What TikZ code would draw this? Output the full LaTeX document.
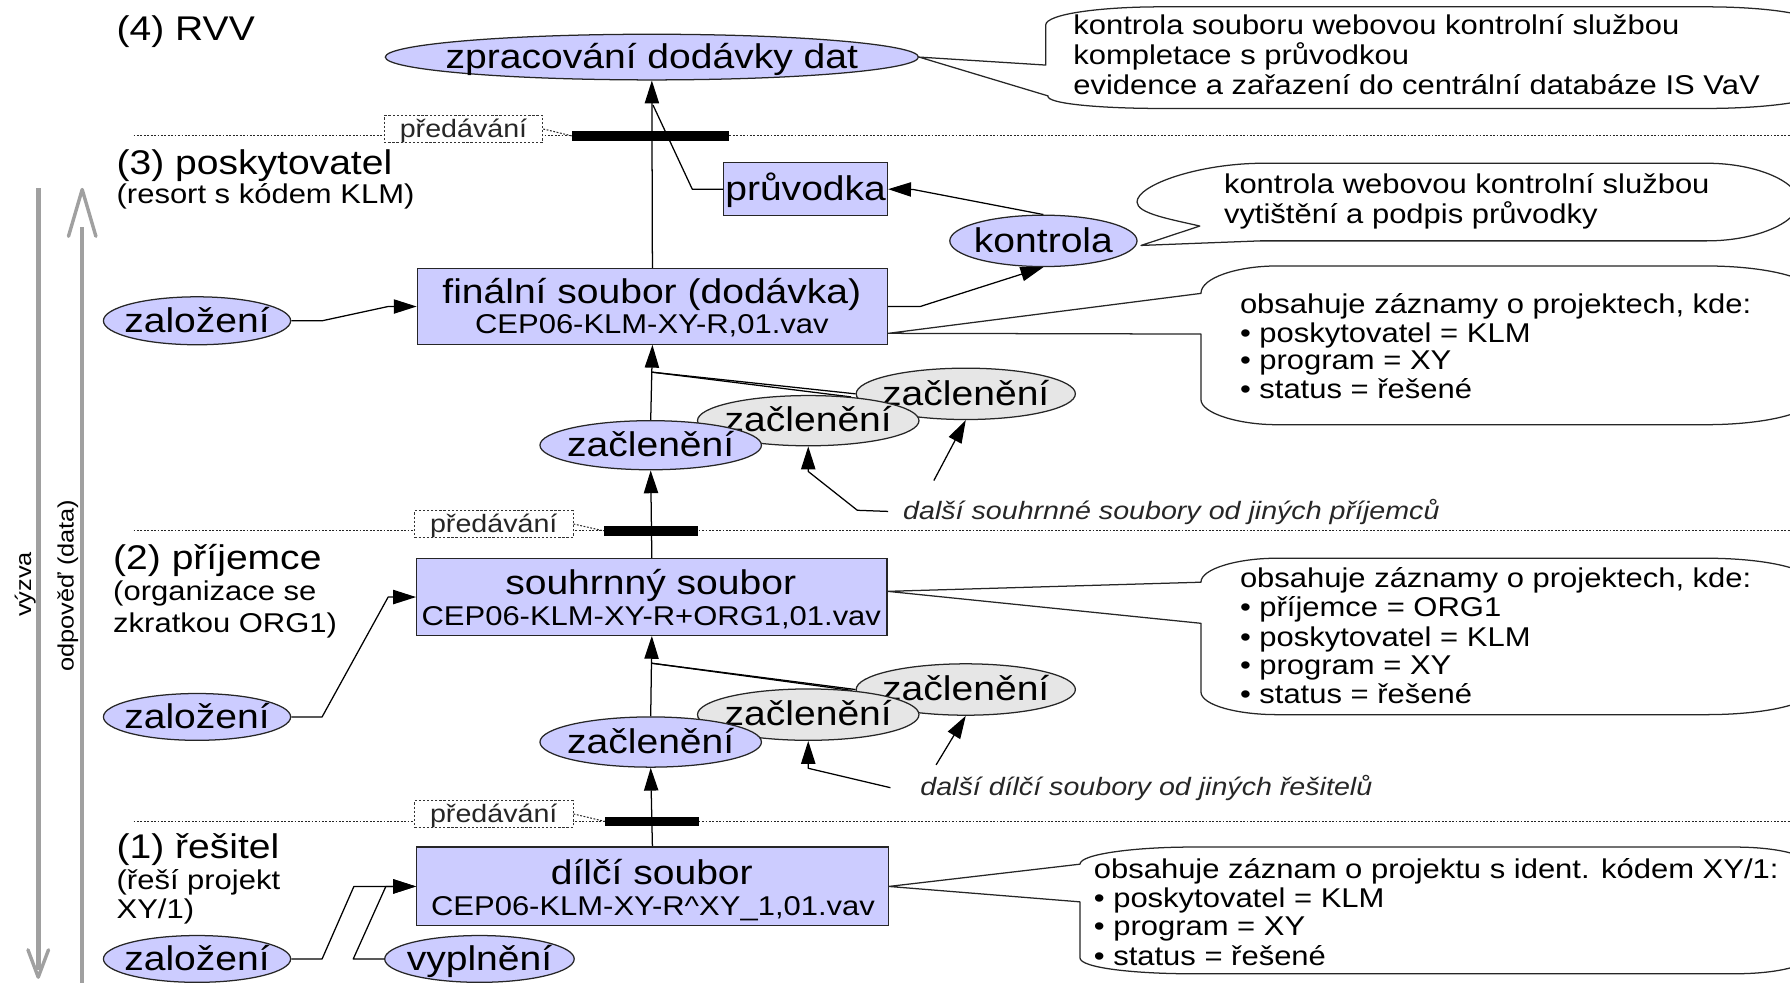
\documentclass[tikz,border=0pt]{standalone}
\usepackage{fontspec}
\setmainfont{Liberation Sans}[FakeStretch=1.14]
\usetikzlibrary{arrows.meta,shapes.geometric,backgrounds}
\definecolor{lav}{RGB}{204,204,255}
\definecolor{lgray}{RGB}{230,230,230}
\definecolor{agray}{RGB}{160,160,160}
\newcommand{\fBig}{\fontsize{30}{34}\selectfont}
\newcommand{\fSm}{\fontsize{23.8}{26}\selectfont}
\newcommand{\fIt}{\fontsize{22}{24}\selectfont\itshape}
\newcommand{\fSide}{\fontsize{19.5}{22}\selectfont}
\newcommand{\fPred}{\fontsize{22}{24}\selectfont}
\newcommand{\zw}[1]{\makebox[0pt]{#1}}
\begin{document}
\begin{tikzpicture}[x=1pt,y=-1pt,
  ln/.style={draw=black, line width=1.1pt, line join=round},
  arr/.style={ln, -{Triangle[length=20pt,width=12.5pt]}},
  ell/.style={ellipse, draw=black!85, line width=1.1pt, inner sep=0pt, font=\fBig, text height=21pt, text depth=1.2pt},
  lavell/.style={ell, fill=lav},
  grell/.style={ell, fill=lgray},
  fbox/.style={rectangle, draw=black!85, fill=lav, line width=1.1pt, inner sep=0pt},
  bigtx/.style={inner sep=0pt, font=\fBig, text height=21pt, text depth=1.2pt},
  smtx/.style={inner sep=0pt, font=\fSm, text height=16.7pt, text depth=0.9pt},
  ittx/.style={inner sep=0pt, font=\fIt, text=black!85, text height=15.4pt, text depth=0.9pt},
  sidetx/.style={inner sep=0pt, font=\fSide},
  co/.style={draw=black!85, line width=1.1pt, fill=white, line join=round},
  sepline/.style={draw=black!85, line width=0.9pt, dash pattern=on 1.6pt off 1.4pt},
  pbox/.style={rectangle, draw=black!80, dash pattern=on 2pt off 1.6pt, line width=0.8pt, fill=white, inner sep=0pt, minimum width=139pt, minimum height=23pt, font=\fPred, text=black!85, text height=15.4pt, text depth=0.9pt},
  barnode/.style={rectangle, fill=black, inner sep=0pt, minimum height=8.5pt},
  garr/.style={draw=agray, line width=4pt},
  garrhead/.style={draw=agray, line width=3pt, line join=round, line cap=round}
]
\useasboundingbox (0,0) rectangle (1568,861);
\clip (0,0) rectangle (1568,861);

% ---- section labels
\node[bigtx, anchor=west] (s4) at (102,26) {(4) RVV};
\node[bigtx, anchor=west] (s3) at (102,143) {(3) poskytovatel};
\node[smtx, anchor=west] (s3b) at (102,170) {(resort s kódem KLM)};
\node[bigtx, anchor=west] (s2) at (99,489) {(2) příjemce};
\node[smtx, anchor=west] (s2b) at (99,518) {(organizace se};
\node[smtx, anchor=west] (s2c) at (99,546) {zkratkou ORG1)};
\node[bigtx, anchor=west] (s1) at (102,742) {(1) řešitel};
\node[smtx, anchor=west] (s1b) at (102,771) {(řeší projekt};
\node[smtx, anchor=west] (s1c) at (102,797) {XY/1)};

% ---- side arrows
\draw[garr] (72,866) -- (72,199);
\draw[garrhead] (60,207) -- (72,166) -- (84,207);
\draw[garr] (33.5,165) -- (33.5,850);
\draw[garrhead] (24.5,832) -- (33.5,856) -- (42.5,832);
\node[sidetx, rotate=90] (vyz) at (22,512) {výzva};
\node[sidetx, rotate=90] (odp) at (59.5,513) {odpověď (data)};

% ---- level 4
\node[lavell, minimum width=467pt, minimum height=40pt] (rvv) at (571,50) {\zw{zpracování dodávky dat}};

% ---- level 3
\node[fbox, minimum width=143.5pt, minimum height=46.5pt, font=\fBig, text height=21pt, text depth=1.2pt] (pruv) at (705.7,165.7) {průvodka};
\node[lavell, minimum width=164pt, minimum height=45pt] (kon) at (914,211) {\zw{kontrola}};
\node[fbox, minimum width=412pt, minimum height=66pt] (fin) at (571.5,268.5) {};
\node[bigtx] (fin1) at (571,256) {finální soubor (dodávka)};
\node[smtx] (fin2) at (571,284) {CEP06-KLM-XY-R,01.vav};
\node[lavell, minimum width=164pt, minimum height=42pt] (zal3) at (172.6,281) {\zw{založení}};
\node[grell, minimum width=192pt, minimum height=45pt] (g32) at (846,345) {\zw{začlenění}};
\node[grell, minimum width=194pt, minimum height=44pt] (g31) at (708,368.5) {\zw{začlenění}};
\node[lavell, minimum width=194pt, minimum height=43pt] (zc3) at (570,390) {\zw{začlenění}};
\node[ittx, anchor=west] (lab3) at (791,448) {další souhrnné soubory od jiných příjemců};

% ---- level 2
\node[fbox, minimum width=412pt, minimum height=67pt] (souhr) at (571,523) {};
\node[bigtx] (sou1) at (570,511) {souhrnný soubor};
\node[smtx] (sou2) at (570.5,540) {CEP06-KLM-XY-R+ORG1,01.vav};
\node[lavell, minimum width=164pt, minimum height=41pt] (zal2) at (172.6,628) {\zw{založení}};
\node[grell, minimum width=192pt, minimum height=45pt] (g22) at (846,604) {\zw{začlenění}};
\node[grell, minimum width=194pt, minimum height=45pt] (g21) at (708,626) {\zw{začlenění}};
\node[lavell, minimum width=194pt, minimum height=44pt] (zc2) at (570,650) {\zw{začlenění}};
\node[ittx, anchor=west] (lab2) at (806,690) {další dílčí soubory od jiných řešitelů};

% ---- level 1
\node[fbox, minimum width=413pt, minimum height=69pt] (dil) at (571.5,776.5) {};
\node[bigtx] (dil1) at (571,765) {dílčí soubor};
\node[smtx] (dil2) at (572,794) {CEP06-KLM-XY-R\^{}XY\_1,01.vav};
\node[lavell, minimum width=164pt, minimum height=41pt] (zal1) at (172.6,840) {\zw{založení}};
\node[lavell, minimum width=166pt, minimum height=41pt] (vyp) at (420,840) {\zw{vyplnění}};

% ---- hand-over boxes and bars
\node[pbox] (p1) at (406,113) {předávání};
\node[pbox] (p2) at (432.5,459) {předávání};
\node[pbox] (p3) at (432.5,713) {předávání};
\node[barnode, minimum width=138pt] (b1) at (570,119) {};
\node[barnode, minimum width=82pt] (b2) at (570,465) {};
\node[barnode, minimum width=82pt] (b3) at (571,719.5) {};

% ---- helper coordinates
\coordinate (rvvj) at (572,92);
\coordinate (j3) at (571,326);
\coordinate (j2) at (571,581);
\coordinate (f3) at (818,421);
\coordinate (f2) at (820,670);

% ---- connectors (behind shapes)
\begin{scope}[on background layer]
  \draw[sepline] (117,119) -- (1570,119);
  \draw[sepline] (117,465) -- (1570,465);
  \draw[sepline] (117,719.5) -- (1570,719.5);
  \draw[sepline] (p1.east) -- (b1.west);
  \draw[sepline] (p2.east) -- (b2.west);
  \draw[sepline] (p3.east) -- (b3.west);

  \draw[arr] (fin.north) -- (rvv.south);
  \draw[ln] (pruv.west) -- ++(-27,0) -- (rvvj);
  \draw[arr] (zal3.east) -- ++(27,0) -- (340,268.5) -- (fin.west);
  \draw[arr] (fin.east) -- ++(28,0) -- (kon.south);
  \draw[arr] (kon.north) -- (800,166) -- (pruv.east);
  \draw[arr] (zc3.north) -- (fin.south);
  \draw[ln] (g31.29) -- (j3);
  \draw[ln] (g32.west) -- (j3);
  \draw[arr] (souhr.north) -- (zc3.south);
  \draw[arr] ([xshift=-13pt]lab3.west) -- (751,447) -- (708,413) -- (g31.south);
  \draw[arr] (f3) -- (g32.south);

  \draw[arr] (zal2.east) -- ++(27,0) -- (340,523) -- (souhr.west);
  \draw[arr] (zc2.north) -- (souhr.south);
  \draw[ln] (g21.29) -- (j2);
  \draw[ln] (g22.west) -- (j2);
  \draw[arr] (dil.north) -- (zc2.south);
  \draw[arr] ([xshift=-26pt]lab2.west) -- (708,673) -- (g21.south);
  \draw[arr] (f2) -- (g22.south);

  \draw[arr] (zal1.east) -- ++(27,0) -- (310,776.5) -- (dil.west);
  \draw[arr] (vyp.west) -- ++(-27,0) -- (338,776.5) -- (dil.west);
\end{scope}

% ---- callouts
\draw[co] (rvv.east) -- (916,57) -- (916,22) .. controls (916,12) and (966,6) .. (1016,6) -- (1495,6) .. controls (1545,6) and (1595,12) .. (1595,24) -- (1595,80) .. controls (1595,89) and (1545,95) .. (1495,95) -- (1016,95) .. controls (966,95) and (916,91) .. (918,84) -- cycle;
\draw[co] ([shift={(3,4)}]kon.east) -- (1051,198) .. controls (1025,192) and (996,187) .. (996,177) .. controls (996,162) and (1050,143) .. (1107,143) -- (1495,143) .. controls (1540,143) and (1576,160) .. (1576,177) .. controls (1576,194) and (1540,211) .. (1495,211) -- (1104,211) -- cycle;
\draw[co] ([yshift=-23.5pt]fin.east) -- (1052,257) .. controls (1052,243) and (1085,233) .. (1118,233) -- (1495,233) .. controls (1545,233) and (1590,243) .. (1590,258) -- (1590,347) .. controls (1590,362) and (1545,372) .. (1495,372) -- (1118,372) .. controls (1085,372) and (1052,362) .. (1052,350) -- (1052,292.6) -- cycle;
\draw[co] ([yshift=5pt]souhr.east) -- (1052,510) .. controls (1052,498) and (1085,489) .. (1118,489) -- (1495,489) .. controls (1545,489) and (1590,498) .. (1590,513) -- (1590,602) .. controls (1590,617) and (1545,626) .. (1495,626) -- (1118,626) .. controls (1085,626) and (1052,618) .. (1052,606) -- (1052,546) -- cycle;
\draw[co] (dil.east) -- (946,757) .. controls (946,748) and (995,742) .. (1044,742) -- (1519,742) .. controls (1560,742) and (1592,750) .. (1592,765) -- (1592,830) .. controls (1592,845) and (1560,853) .. (1519,853) -- (1044,853) .. controls (995,853) and (946,848) .. (946,839) -- (946,790) -- cycle;

% ---- callout texts
\node[smtx, anchor=west] (c1a) at (940,22) {kontrola souboru webovou kontrolní službou};
\node[smtx, anchor=west] (c1b) at (940,49) {kompletace s průvodkou};
\node[smtx, anchor=west] (c1c) at (940,75) {evidence a zařazení do centrální databáze IS VaV};
\node[smtx, anchor=west] (c2a) at (1072,162) {kontrola webovou kontrolní službou};
\node[smtx, anchor=west] (c2b) at (1072,188) {vytištění a podpis průvodky};
\node[smtx, anchor=west] (c3a) at (1086,267) {obsahuje záznamy o projektech, kde:};
\node[smtx, anchor=west] (c3b) at (1086,292) {• poskytovatel = KLM};
\node[smtx, anchor=west] (c3c) at (1086,316) {• program = XY};
\node[smtx, anchor=west] (c3d) at (1086,341) {• status = řešené};
\node[smtx, anchor=west] (c4a) at (1086,507) {obsahuje záznamy o projektech, kde:};
\node[smtx, anchor=west] (c4b) at (1086,532) {• příjemce = ORG1};
\node[smtx, anchor=west] (c4c) at (1086,558) {• poskytovatel = KLM};
\node[smtx, anchor=west] (c4d) at (1086,583) {• program = XY};
\node[smtx, anchor=west] (c4e) at (1086,608) {• status = řešené};
\node[smtx, anchor=west] (c5a) at (958,762) {obsahuje záznam o projektu s ident. kódem XY/1:};
\node[smtx, anchor=west] (c5b) at (958,787) {• poskytovatel = KLM};
\node[smtx, anchor=west] (c5c) at (958,812) {• program = XY};
\node[smtx, anchor=west] (c5d) at (958,838) {• status = řešené};
\end{tikzpicture}
\end{document}
